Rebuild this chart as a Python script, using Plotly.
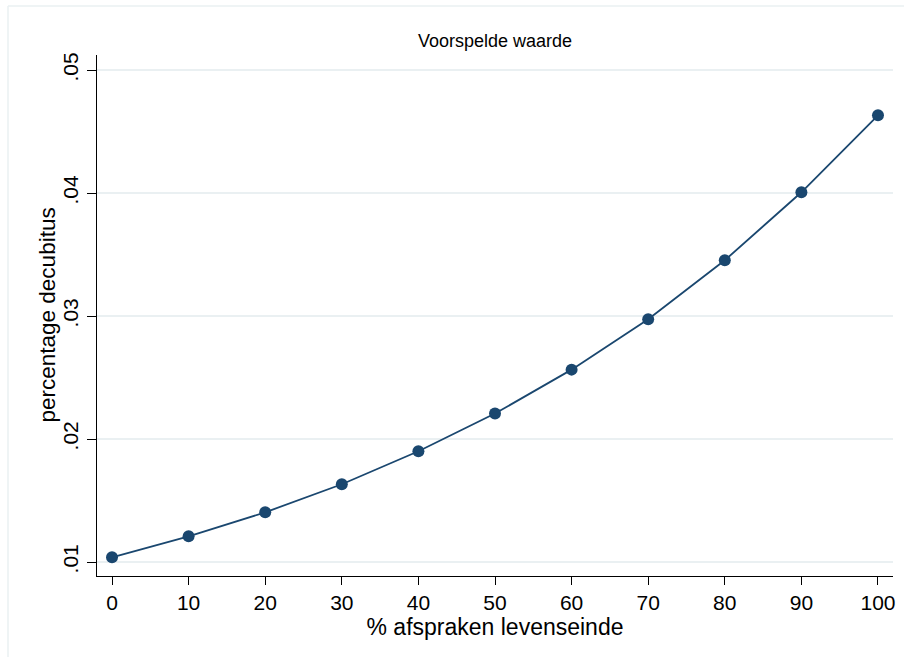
import plotly.graph_objects as go

# Predicted pressure-ulcer share by share of end-of-life agreements
pct_afspraken = [0, 10, 20, 30, 40, 50, 60, 70, 80, 90, 100]
voorspeld = [0.01038, 0.01209, 0.01404, 0.01632, 0.0190, 0.02207,
             0.02564, 0.02973, 0.03453, 0.04006, 0.04632]

x_ticks = [0, 10, 20, 30, 40, 50, 60, 70, 80, 90, 100]
y_ticks = [0.01, 0.02, 0.03, 0.04, 0.05]
y_ticktext = [".01", ".02", ".03", ".04", ".05"]

navy = "#1a476f"
grid = "#eaf0f2"
font_family = "Liberation Sans, Arial, sans-serif"

W, H = 904, 657
L, R, T, B = 97, 11, 55, 81
PW, PH = W - L - R, H - T - B

fig = go.Figure()
fig.add_trace(go.Scatter(
    x=pct_afspraken,
    y=voorspeld,
    mode="lines+markers",
    line=dict(color=navy, width=1.8),
    marker=dict(color=navy, size=12),
    showlegend=False,
))

fig.update_layout(
    width=W,
    height=H,
    margin=dict(l=L, r=R, t=T, b=B, autoexpand=False),
    paper_bgcolor="white",
    plot_bgcolor="white",
    font=dict(family=font_family, color="black"),
    title=dict(
        text="Voorspelde waarde",
        x=0.5, xref="paper", xanchor="center",
        y=1 - 41 / H, yref="container", yanchor="middle",
        font=dict(size=18, color="black"),
    ),
    xaxis=dict(
        range=[-1.96, 101.96],
        automargin=False,
        tickmode="array",
        tickvals=x_ticks,
        ticks="outside",
        ticklen=8,
        tickwidth=1.2,
        tickcolor="black",
        tickfont=dict(size=21),
        showgrid=False,
        zeroline=False,
        showline=True,
        linecolor="black",
        linewidth=1.3,
        title=dict(text="% afspraken levenseinde", font=dict(size=23), standoff=3),
    ),
    yaxis=dict(
        range=[0.008862, 0.05122],
        automargin=False,
        tickmode="array",
        tickvals=y_ticks,
        ticktext=y_ticktext,
        tickangle=-90,
        ticks="outside",
        ticklen=9,
        tickwidth=1.2,
        tickcolor="black",
        tickfont=dict(size=21),
        showgrid=True,
        gridcolor=grid,
        gridwidth=1.6,
        zeroline=False,
        showline=True,
        linecolor="black",
        linewidth=1.3,
    ),
)

# Y-axis title placed next to the rotated tick labels
fig.add_annotation(
    text="percentage decubitus",
    xref="paper", yref="paper",
    x=(47 - L) / PW, y=0.5,
    xanchor="center", yanchor="middle",
    textangle=-90, showarrow=False,
    font=dict(size=22.5, color="black"),
)

# Light outer frame around the graph region (top and left edges visible)
fig.add_shape(type="line", xref="paper", yref="paper",
              x0=(8 - L) / PW, x1=(W - L) / PW + 0.02,
              y0=1 + (T - 6) / PH, y1=1 + (T - 6) / PH,
              line=dict(color=grid, width=1.5))
fig.add_shape(type="line", xref="paper", yref="paper",
              x0=(8 - L) / PW, x1=(8 - L) / PW,
              y0=1 + (T - 6) / PH, y1=-B / PH - 0.02,
              line=dict(color=grid, width=1.5))

fig.write_html("out.html")
